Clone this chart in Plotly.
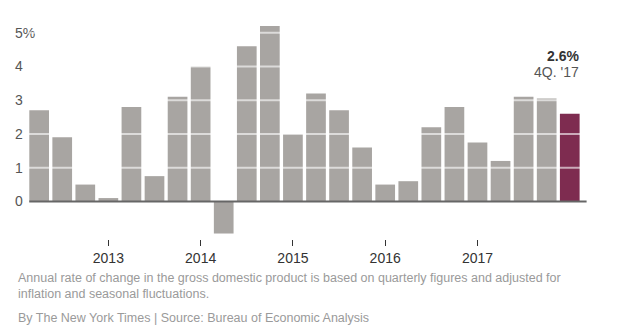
import plotly.graph_objects as go

# ---- data ----
quarters = ["Q1 2012", "Q2 2012", "Q3 2012", "Q4 2012",
            "Q1 2013", "Q2 2013", "Q3 2013", "Q4 2013",
            "Q1 2014", "Q2 2014", "Q3 2014", "Q4 2014",
            "Q1 2015", "Q2 2015", "Q3 2015", "Q4 2015",
            "Q1 2016", "Q2 2016", "Q3 2016", "Q4 2016",
            "Q1 2017", "Q2 2017", "Q3 2017", "Q4 2017"]
gdp_growth = [2.7, 1.9, 0.5, 0.1,
              2.8, 0.75, 3.1, 4.0,
              -0.95, 4.6, 5.2, 2.0,
              3.2, 2.7, 1.6, 0.5,
              0.6, 2.2, 2.8, 1.75,
              1.2, 3.1, 3.05, 2.6]
year_tick_labels = ["2013", "2014", "2015", "2016", "2017"]
year_tick_index = [3, 7, 11, 15, 19]
y_tick_values = [0, 1, 2, 3, 4, 5]
y_tick_labels = ["0", "1", "2", "3", "4", "5%"]
latest_value_label = "2.6%"
latest_period_label = "4Q. '17"
note_text = ("Annual rate of change in the gross domestic product is based on quarterly figures and adjusted for<br>"
             "inflation and seasonal fluctuations.")
source_text = "By The New York Times | Source: Bureau of Economic Analysis"

# ---- layout geometry (pixels) ----
W, H = 639, 335
X_PX_UNIT = 23.07
X0_PX = 39.15          # pixel centre of first bar
Y_PX_UNIT = 33.8
Y0_PX = 201.7          # pixel of zero line
L, R = 12, 600
T, B = 15, 239.3

x_range = [(L - X0_PX) / X_PX_UNIT, (R - X0_PX) / X_PX_UNIT]
y_range = [-(B - Y0_PX) / Y_PX_UNIT, (Y0_PX - T) / Y_PX_UNIT]

def px_x(p):
    return (p - L) / (R - L)

def px_y(p):
    return (B - p) / (B - T)

n = len(gdp_growth)
xs = list(range(n))
GRAY = "#a8a5a2"
MAROON = "#7e2c50"
colors = [GRAY] * (n - 1) + [MAROON]

FONT = "Liberation Sans, Arial, sans-serif"

fig = go.Figure(go.Bar(
    x=xs, y=gdp_growth, marker=dict(color=colors, line=dict(width=0)),
    hovertext=quarters, hoverinfo="text+y",
))

shapes = []
for g in y_tick_values[1:]:
    shapes.append(dict(type="line", xref="x", yref="y", x0=-0.5, x1=n - 0.5, y0=g, y1=g,
                       line=dict(color="rgba(255,255,255,0.6)", width=2), layer="above"))
shapes.append(dict(type="line", xref="x", yref="y", x0=-0.43, x1=n - 0.27, y0=0, y1=0,
                   line=dict(color="#666666", width=2), layer="above"))

annotations = [
    dict(xref="x", yref="y", x=n - 1 + 0.49, y=(Y0_PX - 56) / Y_PX_UNIT,
         text="<b>" + latest_value_label + "</b>", showarrow=False,
         xanchor="right", yanchor="middle", font=dict(family=FONT, size=14, color="#333333")),
    dict(xref="x", yref="y", x=n - 1 + 0.49, y=(Y0_PX - 71.7) / Y_PX_UNIT,
         text=latest_period_label, showarrow=False,
         xanchor="right", yanchor="middle", font=dict(family=FONT, size=14, color="#555555")),
    dict(xref="paper", yref="paper", x=px_x(16), y=px_y(286), text=note_text,
         showarrow=False, xanchor="left", yanchor="middle", align="left",
         font=dict(family=FONT, size=12.5, color="#9a9a9a")),
    dict(xref="paper", yref="paper", x=px_x(16), y=px_y(318.5), text=source_text,
         showarrow=False, xanchor="left", yanchor="middle", align="left",
         font=dict(family=FONT, size=12.5, color="#9a9a9a")),
]

fig.update_layout(
    width=W, height=H,
    margin=dict(l=L, r=W - R, t=T, b=H - B, pad=0),
    paper_bgcolor="white", plot_bgcolor="white",
    showlegend=False, bargap=0.146,
    shapes=shapes, annotations=annotations,
    font=dict(family=FONT),
    xaxis=dict(range=x_range, tickmode="array", tickvals=year_tick_index, ticktext=year_tick_labels,
               ticks="outside", ticklen=6, tickwidth=1, tickcolor="#333333",
               showgrid=False, zeroline=False, showline=False,
               tickfont=dict(family=FONT, size=14, color="#333333"), fixedrange=True),
    yaxis=dict(range=y_range, tickmode="array", tickvals=y_tick_values, ticktext=y_tick_labels,
               ticklabelposition="inside", ticks="", showgrid=False, zeroline=False, showline=False,
               tickfont=dict(family=FONT, size=14, color="#555555"), fixedrange=True),
)

fig.write_html("out.html")
